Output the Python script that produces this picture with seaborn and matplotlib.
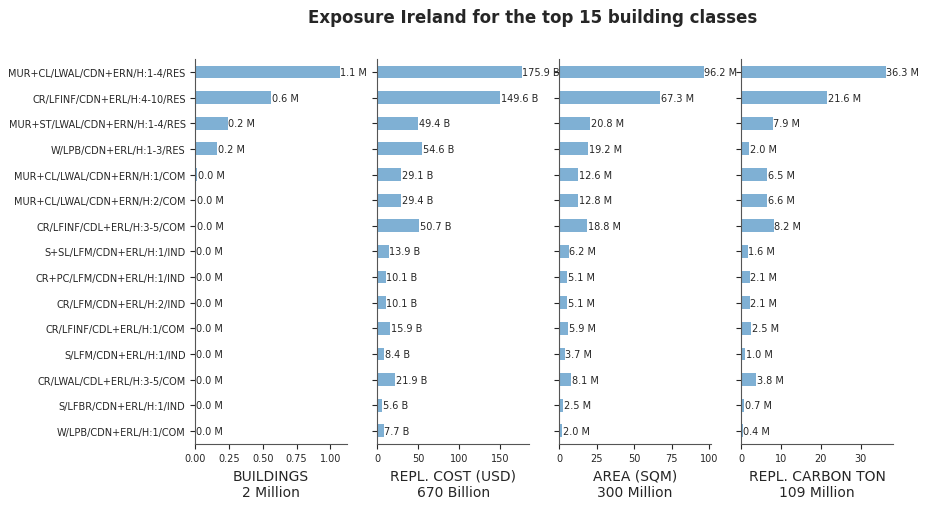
import matplotlib
matplotlib.use("Agg")
import matplotlib.pyplot as plt
import seaborn as sns
import pandas as pd

classes = [
    "MUR+CL/LWAL/CDN+ERN/H:1-4/RES",
    "CR/LFINF/CDN+ERL/H:4-10/RES",
    "MUR+ST/LWAL/CDN+ERN/H:1-4/RES",
    "W/LPB/CDN+ERL/H:1-3/RES",
    "MUR+CL/LWAL/CDN+ERN/H:1/COM",
    "MUR+CL/LWAL/CDN+ERN/H:2/COM",
    "CR/LFINF/CDL+ERL/H:3-5/COM",
    "S+SL/LFM/CDN+ERL/H:1/IND",
    "CR+PC/LFM/CDN+ERL/H:1/IND",
    "CR/LFM/CDN+ERL/H:2/IND",
    "CR/LFINF/CDL+ERL/H:1/COM",
    "S/LFM/CDN+ERL/H:1/IND",
    "CR/LWAL/CDL+ERL/H:3-5/COM",
    "S/LFBR/CDN+ERL/H:1/IND",
    "W/LPB/CDN+ERL/H:1/COM",
]
buildings_m = [1.07, 0.56, 0.24, 0.16, 0.012, 0.006, 0.004, 0.003, 0.002, 0.002, 0.002, 0.002, 0.001, 0.001, 0.001]
cost_b = [175.9, 149.6, 49.4, 54.6, 29.1, 29.4, 50.7, 13.9, 10.1, 10.1, 15.9, 8.4, 21.9, 5.6, 7.7]
area_m = [96.2, 67.3, 20.8, 19.2, 12.6, 12.8, 18.8, 6.2, 5.1, 5.1, 5.9, 3.7, 8.1, 2.5, 2.0]
carbon_m = [36.3, 21.6, 7.9, 2.0, 6.5, 6.6, 8.2, 1.6, 2.1, 2.1, 2.5, 1.0, 3.8, 0.7, 0.4]

panels = [
    (buildings_m, "BUILDINGS\n2 Million", "M"),
    (cost_b, "REPL. COST (USD)\n670 Billion", "B"),
    (area_m, "AREA (SQM)\n300 Million", "M"),
    (carbon_m, "REPL. CARBON TON\n109 Million", "M"),
]
title = "Exposure Ireland for the top 15 building classes"

sns.set_style("ticks")
plt.rcParams["font.family"] = ["DejaVu Sans"]

fig, axes = plt.subplots(1, 4, figsize=(9.3, 5.1), dpi=100, sharey=True)
fig.subplots_adjust(left=0.21, right=0.96, top=0.882, bottom=0.128, wspace=0.2)

color = "#7fb0d4"
for ax, (vals, label, unit) in zip(axes, panels):
    df = pd.DataFrame({"cls": classes, "val": vals})
    sns.barplot(data=df, y="cls", x="val", ax=ax, color=color, width=0.5,
                saturation=1, orient="h", linewidth=0)
    ax.bar_label(ax.containers[0], labels=[f"{v:.1f} {unit}" for v in vals],
                 fontsize=7, padding=0.5, color="#262626")
    ax.set_xlabel(label, fontsize=10)
    ax.set_ylabel("")
    ax.tick_params(axis="both", labelsize=7)
    ax.set_xlim(0, max(vals) * 1.05)
    sns.despine(ax=ax)
    for s in ("left", "bottom"):
        ax.spines[s].set_color("#555555")

fig.suptitle(title, fontsize=12, fontweight="bold", x=0.573, y=0.982)
fig.savefig("out.png", dpi=100)
